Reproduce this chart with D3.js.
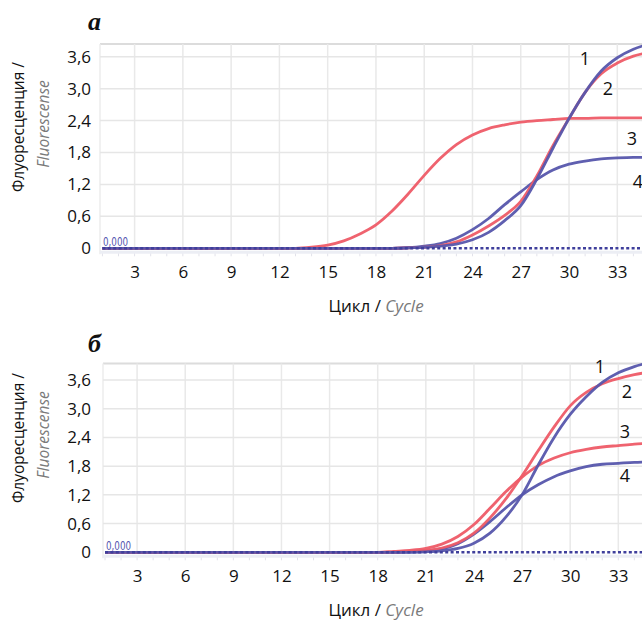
<!DOCTYPE html>
<html>
<head>
<meta charset="utf-8">
<script src="https://cdn.jsdelivr.net/npm/d3@7"></script>
<style>
  html, body { margin: 0; padding: 0; background: #fff; }
  svg { display: block; font-family: "Open Sans", "Noto Sans", sans-serif; }
</style>
</head>
<body>
<svg id="chart" width="642" height="622"></svg>
<script>
// Amplification cycles (x categories)
const cycles = [1,2,3,4,5,6,7,8,9,10,11,12,13,14,15,16,17,18,19,20,21,22,23,24,25,26,27,28,29,30,31,32,33,34,35];

// Axis ticks
const xTicks = [3,6,9,12,15,18,21,24,27,30,33];
const yTicks = [0,0.6,1.2,1.8,2.4,3.0,3.6];
const yTickLabels = ["0","0,6","1,2","1,8","2,4","3,0","3,6"];

// Panel а — fluorescence per cycle
const a1 = [0,0,0,0,0,0,0,0,0,0,0,0,0,0,0,0,0,0,0,0.01,0.02,0.04,0.08,0.16,0.30,0.52,0.80,1.30,1.88,2.44,2.93,3.33,3.58,3.74,3.84];
const a2 = [0,0,0,0,0,0,0,0,0,0,0,0,0,0,0,0,0,0,0,0.01,0.02,0.05,0.12,0.25,0.42,0.62,0.88,1.36,1.93,2.44,2.93,3.28,3.48,3.61,3.68];
const a3 = [0,0,0,0,0,0,0,0,0,0,0,0,0,0.02,0.06,0.14,0.27,0.44,0.70,1.02,1.37,1.69,1.95,2.13,2.25,2.32,2.37,2.40,2.42,2.44,2.44,2.45,2.45,2.45,2.45];
const a4 = [0,0,0,0,0,0,0,0,0,0,0,0,0,0,0,0,0,0,0,0.01,0.04,0.09,0.19,0.35,0.56,0.82,1.06,1.29,1.47,1.58,1.64,1.68,1.70,1.71,1.71];

// Panel б — fluorescence per cycle
const b1 = [0,0,0,0,0,0,0,0,0,0,0,0,0,0,0,0,0,0,0,0,0.01,0.03,0.08,0.19,0.40,0.74,1.20,1.82,2.40,2.88,3.25,3.55,3.75,3.88,3.97];
const b2 = [0,0,0,0,0,0,0,0,0,0,0,0,0,0,0,0,0,0,0,0.02,0.04,0.09,0.20,0.40,0.72,1.12,1.60,2.12,2.62,3.06,3.34,3.52,3.63,3.71,3.77];
const b3 = [0,0,0,0,0,0,0,0,0,0,0,0,0,0,0,0,0,0,0.02,0.04,0.08,0.17,0.33,0.58,0.92,1.27,1.57,1.81,1.97,2.08,2.15,2.20,2.23,2.26,2.28];
const b4 = [0,0,0,0,0,0,0,0,0,0,0,0,0,0,0,0,0,0,0,0.01,0.03,0.07,0.18,0.38,0.64,0.93,1.20,1.41,1.58,1.70,1.79,1.84,1.86,1.88,1.89];

// Threshold line at zero
const threshold = [0,0,0,0,0,0,0,0,0,0,0,0,0,0,0,0,0,0,0,0,0,0,0,0,0,0,0,0,0,0,0,0,0,0,0];

const seriesNames = ["1","2","3","4"];

const RED = "#ee5b67";
const BLUE = "#5656ac";
const SANS = "'Open Sans', 'Noto Sans', sans-serif";

const svg = d3.select("#chart");
const W = 642;

const panels = [
  {
    id: "a", letter: "а", series: [a4, a3, a2, a1], colors: [BLUE, RED, RED, BLUE],
    left: 100, top: 44, xr: [134.6, 617.3], yr: [248.3, 56.7],
    letterPos: [88, 30], titleY: 127,
    labelPos: [[585, 65], [608, 95], [632, 145], [638, 188]]
  },
  {
    id: "b", letter: "б", series: [b4, b3, b2, b1], colors: [BLUE, RED, RED, BLUE],
    left: 103, top: 363.5, xr: [137.1, 618.3], yr: [552.3, 380],
    letterPos: [88, 352], titleY: 438,
    labelPos: [[600, 373], [627, 398], [625, 438], [625, 482]]
  }
];

panels.forEach(p => {
  const x = d3.scaleLinear().domain([3, 33]).range(p.xr);
  const y = d3.scaleLinear().domain([0, 3.6]).range(p.yr);
  const y0 = y(0);
  const g = svg.append("g").attr("class", "panel-" + p.id);

  // plot frame
  g.append("line").attr("x1", p.left).attr("x2", W).attr("y1", p.top).attr("y2", p.top)
    .attr("stroke", "#dcdcdc").attr("stroke-width", 2);
  g.append("line").attr("x1", p.left).attr("x2", p.left).attr("y1", p.top).attr("y2", y0 + 6)
    .attr("stroke", "#ececec").attr("stroke-width", 1.5);

  // grid
  g.append("g").selectAll("line.v").data(xTicks.concat([36])).join("line")
    .attr("x1", d => x(d)).attr("x2", d => x(d))
    .attr("y1", p.top).attr("y2", y0)
    .attr("stroke", "#e9e9e9").attr("stroke-width", 1.5);
  g.append("g").selectAll("line.h").data(yTicks.slice(1)).join("line")
    .attr("x1", p.left).attr("x2", W)
    .attr("y1", d => y(d)).attr("y2", d => y(d))
    .attr("stroke", "#e6e6e6").attr("stroke-width", 1.5);

  // minor cycle ticks under the baseline
  g.append("g").selectAll("line.m").data(cycles.concat([36])).join("line")
    .attr("x1", d => x(d)).attr("x2", d => x(d))
    .attr("y1", y0 + 3).attr("y2", y0 + 8)
    .attr("stroke", "#e2e2ea").attr("stroke-width", 1);
  g.append("line").attr("x1", p.left).attr("x2", W).attr("y1", y0 + 4).attr("y2", y0 + 4)
    .attr("stroke", "#eceef4").attr("stroke-width", 3);

  // y axis labels
  const yAxis = d3.axisLeft(y).tickValues(yTicks).tickFormat((d, i) => yTickLabels[i]).tickSize(0).tickPadding(0);
  const ya = g.append("g").attr("transform", `translate(91,0)`).call(yAxis);
  ya.attr("font-family", null).attr("font-size", null);
  ya.select(".domain").remove();
  ya.selectAll("text").style("font-size", "17px").attr("fill", "#111")
    .style("font-family", SANS).attr("dy", "0.32em");

  // x axis labels
  const xAxis = d3.axisBottom(x).tickValues(xTicks).tickSize(0).tickPadding(0);
  const xa = g.append("g").attr("transform", `translate(0,${y0 + 18})`).call(xAxis);
  xa.attr("font-family", null).attr("font-size", null);
  xa.select(".domain").remove();
  xa.selectAll("text").style("font-size", "17px").attr("fill", "#111")
    .style("font-family", SANS);

  // curves
  const line = d3.line().x((d, i) => x(cycles[i])).y(d => y(d)).curve(d3.curveMonotoneX);
  const clipId = "clip-" + p.id;
  svg.append("clipPath").attr("id", clipId).append("rect")
    .attr("x", p.left).attr("y", p.top - 2).attr("width", W - p.left).attr("height", y0 - p.top + 6);
  const cg = g.append("g").attr("clip-path", `url(#${clipId})`);
  p.series.forEach((s, i) => {
    cg.append("path").datum(s).attr("d", line)
      .attr("fill", "none").attr("stroke", p.colors[i]).attr("stroke-width", 2.8)
      .attr("stroke-linejoin", "round").attr("stroke-opacity", 0.95);
  });
  cg.append("path").datum(threshold).attr("d", line)
    .attr("fill", "none").attr("stroke", "#3f3f9c").attr("stroke-width", 2.4)
    .attr("stroke-dasharray", "3,2.4");

  // threshold value
  g.append("text").attr("x", p.left + 3).attr("y", y0 - 2.5)
    .style("font-family", "'Liberation Sans Narrow', 'DejaVu Sans Condensed', sans-serif")
    .style("font-size", "13px").attr("fill", "#5555b0")
    .attr("textLength", 25).attr("lengthAdjust", "spacingAndGlyphs")
    .text("0,000");

  // curve numbers
  seriesNames.forEach((n, i) => {
    g.append("text").attr("x", p.labelPos[i][0]).attr("y", p.labelPos[i][1])
      .style("font-size", "18px").attr("fill", "#111").attr("text-anchor", "middle").text(n);
  });

  // panel letter
  g.append("text").attr("x", p.letterPos[0]).attr("y", p.letterPos[1])
    .style("font-family", "'Liberation Serif', 'DejaVu Serif', serif")
    .style("font-weight", "bold").style("font-style", "italic").style("font-size", "26px")
    .attr("fill", "#111").text(p.letter);

  // axis titles
  g.append("text").attr("transform", `translate(24,${p.titleY}) rotate(-90)`)
    .attr("text-anchor", "middle").style("font-size", "15.5px").attr("fill", "#111")
    .text("Флуоресценция /");
  g.append("text").attr("transform", `translate(49,${p.titleY - 3}) rotate(-90)`)
    .attr("text-anchor", "middle").style("font-size", "15.5px").attr("fill", "#7a7a7a")
    .style("font-style", "italic").text("Fluorescense");

  const xt = g.append("text").attr("x", 376).attr("y", y0 + 64)
    .attr("text-anchor", "middle").style("font-size", "17px").attr("fill", "#111");
  xt.append("tspan").text("Цикл / ");
  xt.append("tspan").attr("fill", "#7a7a7a").style("font-style", "italic").text("Cycle");
});
</script>
</body>
</html>
